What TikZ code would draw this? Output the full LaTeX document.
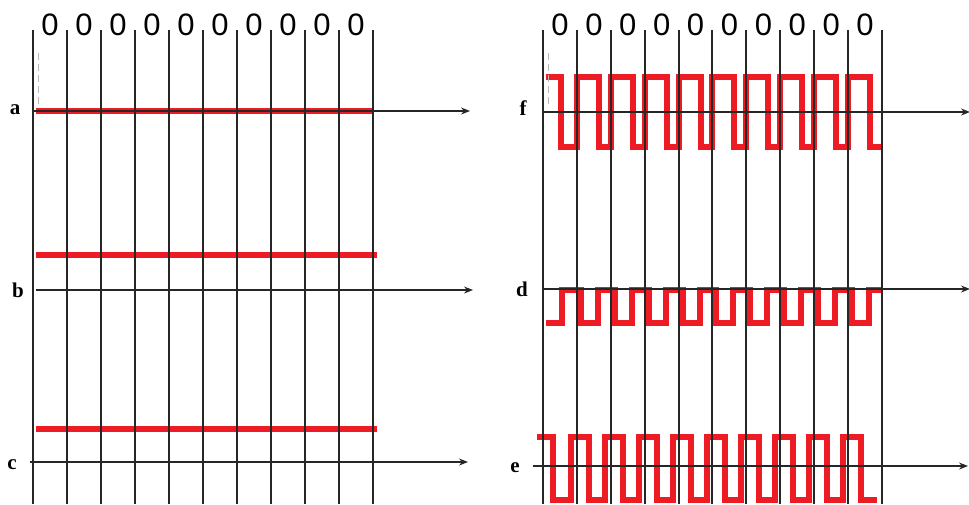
\documentclass[tikz,border=0pt]{standalone}
\usepackage{fontspec}
\setmainfont{Liberation Serif}
\newfontfamily\digitfont{Liberation Sans}
\usetikzlibrary{arrows.meta}
\definecolor{sigred}{HTML}{ED1C24}
\definecolor{gridblack}{HTML}{262626}
\begin{document}
\begin{tikzpicture}[x=1pt,y=-1pt,
  gridline/.style={draw=gridblack,line width=1.25pt},
  axisline/.style={draw=gridblack,line width=1.25pt,-{Stealth[length=9pt,width=7pt,inset=3pt]}},
  sig/.style={draw=sigred,line width=6.5pt,line join=miter,line cap=butt},
  digit/.style={font=\digitfont\fontsize{31}{31}\selectfont,inner sep=0pt,anchor=base},
  lab/.style={font=\bfseries\fontsize{21}{21}\selectfont,inner sep=0pt,anchor=base},
  guide/.style={draw=gray!55,line width=1pt,dash pattern=on 7pt off 4pt}]
\useasboundingbox (0,0) rectangle (969,504);

% ---------- red signals (drawn first) ----------
\draw[sig] (36,111) -- (373,111);
\draw[sig] (36,255) -- (377,255);
\draw[sig] (36,429) -- (377,429);

% f
\draw[sig] (546,77) -| (561,147)
  foreach \j in {1,...,9}{ -| ({round(543+33.9*\j)},77) -| ({round(543+33.9*\j)+22},147) }
  -- (882,147);
% d
\draw[sig] (546,323) -| (562,290)
  foreach \j in {1,...,9}{ -| ({round(543+33.9*\j)+4},323) -| ({round(543+33.9*\j)+21},290) }
  -- (882,290);
% e
\draw[sig] (537,437) -| (553,500)
  foreach \k in {1,...,9}{ -| ({537+34*\k},437) -| ({537+34*\k+18},500) }
  -- (877,500);

% ---------- grid ----------
\foreach \i in {0,...,10}{
  \draw[gridline] ({33+34*\i},30) -- ({33+34*\i},504);
  \draw[gridline] ({round(543+33.9*\i)},30) -- ({round(543+33.9*\i)},504);
}
\foreach \i in {0,...,9}{
  \node[digit] (dl\i) at ({50+34*\i},35) {0};
  \node[digit] (dr\i) at ({560+33.9*\i},35) {0};
}

% guides
\draw[guide] (38,53) -- (38,106);
\draw[guide] (548,53) -- (548,106);

% ---------- axes ----------
\coordinate (a0) at (33,111);  \coordinate (a1) at (470,111);
\coordinate (b0) at (36,290);  \coordinate (b1) at (473,290);
\coordinate (c0) at (30,462);  \coordinate (c1) at (468,462);
\coordinate (f0) at (543,112); \coordinate (f1) at (970,112);
\coordinate (d0) at (543,289); \coordinate (d1) at (970,289);
\coordinate (e0) at (533,466); \coordinate (e1) at (968,466);
\foreach \s in {a,b,c,f,d,e}{ \draw[axisline] (\s0) -- (\s1); }

% ---------- labels ----------
\node[lab] (la) at (15,114) {a};
\node[lab] (lb) at (18,297) {b};
\node[lab] (lc) at (12,469) {c};
\node[lab] (lf) at (523,115) {f};
\node[lab] (ld) at (522,296) {d};
\node[lab] (le) at (515,472) {e};
\end{tikzpicture}
\end{document}
